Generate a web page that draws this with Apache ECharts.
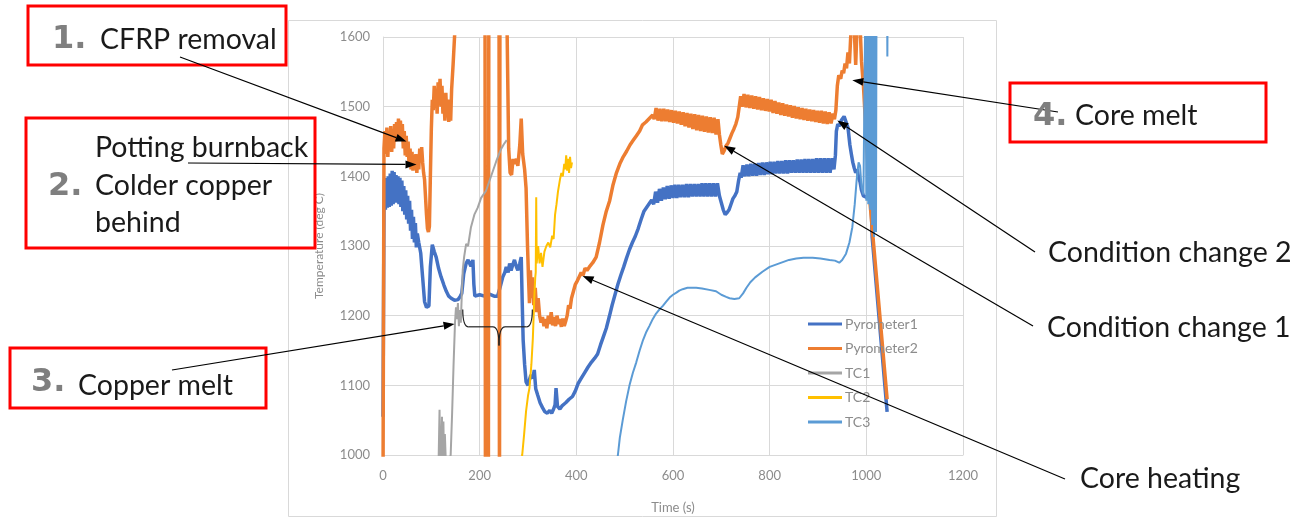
<!DOCTYPE html>
<html><head><meta charset="utf-8">
<script src="https://cdn.jsdelivr.net/npm/echarts@6/dist/echarts.min.js"></script>
<style>html,body{margin:0;padding:0;background:#fff;}#c{width:1299px;height:519px;}</style>
</head><body><div id="c"></div>
<script>
// ---- data (time s, temperature deg C) ----
const seriesNames = ['Pyrometer1','Pyrometer2','TC1','TC2','TC3'];
const xTicks = [0,200,400,600,800,1000,1200];
const yTicks = [1000,1100,1200,1300,1400,1500,1600];

const pyrometer1 = [
[0,1055],[0.5,1125],[2,1350],[3,1395],[5,1352],[7,1398],[9,1355],[11,1400],[13,1356],[15,1404],[17,1358],[19,1408],[21,1360],[23,1406],[25,1362],[27,1402],[29,1362],[31,1400],[33,1360],[35,1398],[37,1356],[39,1394],[41,1350],[43,1386],[45,1345],[47,1380],[49,1338],[51,1372],[53,1332],[55,1365],[57,1322],[59,1352],[61,1310],[63,1342],[65,1305],[67,1333],[69,1298],[71,1318],[74,1305],[78,1290],[82,1255],[86,1220],[90,1212],[95,1214],[98,1270],[102,1302],[106,1292],[110,1284],[115,1268],[120,1256],[126,1244],[131,1235],[136,1228],[141,1225],[148,1222],[155,1223],[160,1228],[163,1232],[167,1260],[172,1275],[176,1280],[179,1280],[182,1271],[186,1280],[188,1245],[190,1228],[200,1230],[210,1228],[220,1231],[230,1228],[237,1228],[242,1240],[248,1256],[252,1262],[255,1270],[259,1262],[262,1275],[265,1265],[268,1272],[272,1280],[276,1270],[279,1265],[283,1275],[286,1284],[288,1220],[290,1165],[293,1130],[296,1105],[300,1100],[303,1108],[306,1115],[310,1110],[313,1122],[316,1095],[320,1086],[325,1075],[330,1068],[335,1062],[340,1060],[345,1064],[349,1060],[353,1066],[356,1072],[358,1096],[361,1070],[366,1066],[371,1071],[378,1075],[385,1080],[392,1084],[398,1092],[404,1103],[410,1110],[417,1118],[424,1126],[431,1133],[438,1139],[444,1145],[450,1158],[456,1170],[462,1182],[468,1198],[474,1215],[480,1230],[486,1245],[492,1258],[498,1270],[504,1283],[510,1295],[516,1305],[522,1314],[528,1325],[534,1338],[540,1350],[546,1356],[552,1362],[556,1366],
[560,1360],[564,1378],[568,1362],[572,1382],[576,1365],[580,1384],[584,1367],[588,1386],[592,1368],[596,1387],[600,1369],[604,1388],[608,1369],[612,1388],[616,1370],[620,1388],[624,1370],[628,1389],[632,1370],[636,1389],[640,1371],[644,1389],[648,1371],[652,1389],[656,1371],[660,1390],[664,1371],[668,1390],[672,1371],[676,1390],[680,1371],[684,1390],[688,1371],[692,1390],[696,1372],
[700,1362],[704,1352],[708,1345],[712,1348],[716,1352],[720,1360],[724,1368],[728,1372],[732,1378],[736,1395],[739,1405],
[741,1398],[745,1416],[749,1400],[753,1417],[757,1400],[761,1418],[765,1401],[769,1418],[773,1401],[777,1419],[781,1402],[785,1420],[789,1402],[793,1420],[797,1403],[801,1421],[805,1403],[809,1421],[813,1404],[817,1422],[821,1404],[825,1422],[829,1404],[833,1423],[837,1404],[841,1423],[845,1405],[849,1423],[853,1405],[857,1424],[861,1405],[865,1424],[869,1405],[873,1425],[877,1405],[881,1425],[885,1405],[889,1425],[893,1405],[897,1426],[901,1405],[905,1426],[909,1405],[913,1426],[917,1405],[921,1426],[925,1405],[929,1426],[933,1410],
[936,1430],[938,1465],[941,1475],[944,1472],[948,1480],[951,1478],[954,1486],[958,1484],[962,1470],[966,1445],[969,1432],[972,1420],[975,1412],[978,1405],[981,1410],[984,1398],[987,1392],[990,1380],[994,1372],[1000,1370],[1006,1369],[1010,1360],[1012,1313],[1043,1062]
];

const pyrometer2 = [
[0,950],[2,1440],[4,1465],[6,1432],[8,1470],[10,1428],[12,1460],[14,1440],[16,1472],[18,1435],[20,1468],[22,1440],[24,1475],[26,1450],[28,1478],[30,1455],[32,1483],[34,1460],[36,1480],[38,1455],[40,1475],[42,1440],[44,1465],[46,1430],[48,1458],[50,1428],[52,1450],[54,1415],[56,1440],[58,1410],[60,1435],[62,1408],[64,1430],[66,1410],[68,1432],[70,1405],[72,1428],[74,1410],[76,1440],[78,1420],[80,1442],[82,1420],[84,1405],[86,1395],[88,1370],[90,1345],[92,1325],[94,1320],[96,1328],[98,1400],[100,1468],[102,1510],[104,1495],[106,1530],[108,1500],[110,1525],[112,1490],[114,1535],[116,1505],[118,1540],[120,1500],[122,1530],[124,1490],[126,1515],[128,1480],[130,1520],[132,1485],[134,1510],[136,1478],[138,1500],[140,1480],[142,1525],[145,1560],[148,1600],[151,1640],[160,1700],
[211,1700],[212,900],[218,900],[219,1700],[240,1700],[241,900],[242,1700],[255,1700],
[260,1440],[263,1405],[266,1402],[269,1425],[272,1418],[276,1425],[279,1415],[283,1445],[286,1483],[289,1432],[293,1410],[296,1383],[299,1300],[301,1256],[303,1218],[305,1265],[307,1225],[309,1255],[312,1215],[315,1240],[318,1205],[321,1225],[324,1200],[327,1190],[330,1198],[333,1185],[336,1195],[339,1182],[342,1200],[345,1188],[348,1205],[351,1186],[354,1198],[357,1185],[360,1200],[363,1188],[366,1195],[369,1184],[372,1196],[375,1185],[378,1192],[381,1200],[384,1215],[387,1210],[390,1225],[394,1235],[398,1245],[402,1250],[406,1256],[410,1262],[414,1258],[418,1268],[422,1265],[427,1270],[434,1276],[441,1284],[448,1305],[455,1330],[462,1350],[469,1365],[476,1388],[483,1405],[490,1418],[497,1428],[504,1436],[511,1445],[518,1452],[524,1458],[531,1465],[537,1474],[544,1478],[551,1483],[558,1488],
[561,1482],[565,1498],[569,1480],[573,1497],[577,1479],[581,1497],[585,1479],[589,1496],[593,1478],[597,1495],[601,1477],[605,1494],[609,1476],[613,1493],[617,1474],[621,1492],[625,1472],[629,1491],[633,1470],[637,1490],[641,1468],[645,1489],[649,1466],[653,1488],[657,1465],[661,1487],[665,1464],[669,1486],[673,1463],[677,1485],[681,1462],[685,1484],[689,1460],[693,1482],
[696,1460],[699,1445],[702,1432],[706,1437],[710,1444],[714,1448],[718,1455],[722,1462],[726,1468],[730,1475],[734,1485],[737,1500],[740,1515],
[743,1500],[747,1518],[751,1499],[755,1517],[759,1498],[763,1516],[767,1497],[771,1515],[775,1496],[779,1514],[783,1495],[787,1512],[791,1494],[795,1511],[799,1493],[803,1510],[807,1491],[811,1508],[815,1490],[819,1506],[823,1488],[827,1505],[831,1487],[835,1503],[839,1486],[843,1502],[847,1484],[851,1501],[855,1483],[859,1499],[863,1482],[867,1498],[871,1481],[875,1497],[879,1480],[883,1496],[887,1479],[891,1495],[895,1478],[899,1494],[903,1477],[907,1494],[911,1476],[915,1493],[919,1475],[923,1492],[927,1476],[931,1490],[934,1482],
[937,1495],[940,1530],[943,1545],[947,1540],[950,1552],[953,1548],[956,1562],[959,1555],[962,1578],[965,1562],[968,1605],[971,1640],[975,1612],[978,1560],[981,1620],[985,1650],[988,1600],[990,1565],[994,1530],[998,1480],[1003,1420],[1006,1374],[1012,1327],[1043,1080]
];

const tc1 = [
[110,960],[115,990],[117,1065],[118,995],[120,1000],[122,1055],[123,995],[125,1048],[126,998],[128,1030],[130,990],[135,985],[140,1000],[143,1060],[146,1130],[149,1190],[151,1212],[153,1195],[155,1218],[157,1185],[159,1208],[161,1190],[163,1230],[165,1266],[168,1285],[172,1303],[176,1300],[182,1327],[189,1345],[196,1355],[203,1369],[213,1379],[220,1393],[227,1407],[234,1421],[240,1432],[245,1440],[250,1446],[253,1448],[256,1452]
];

const tc2 = [
[284,980],[288,1000],[292,1030],[296,1063],[300,1085],[303,1096],[307,1130],[310,1167],[313,1225],[315,1255],[316,1262],[317,1370],[318,1275],[321,1300],[324,1275],[327,1290],[330,1270],[334,1292],[338,1300],[342,1305],[346,1298],[350,1315],[353,1310],[356,1345],[359,1360],[362,1378],[366,1395],[369,1405],[372,1400],[375,1418],[377,1410],[379,1430],[381,1408],[383,1425],[385,1405],[387,1428],[389,1412],[391,1420]
];

const tc3 = [
[484,990],[486,1000],[490,1025],[496,1050],[503,1077],[510,1100],[517,1118],[524,1133],[531,1150],[538,1165],[545,1177],[551,1185],[558,1195],[565,1203],[572,1209],[579,1214],[586,1220],[593,1226],[600,1230],[607,1233],[613,1236],[620,1238],[630,1240],[648,1240],[660,1239],[675,1237],[689,1235],[700,1230],[710,1227],[717,1225],[727,1224],[737,1225],[745,1232],[752,1240],[760,1248],[770,1255],[785,1263],[800,1270],[820,1275],[840,1280],[855,1282],[870,1283],[889,1283],[905,1282],[924,1280],[935,1279],[944,1276],[950,1280],[958,1289],[965,1305],[971,1327],[976,1360],[980,1395],[984,1420],[987,1415],[990,1385],[994,1374],[996,1372],
[998,1650],[1000,1365],[1002,1650],[1004,1360],[1006,1650],[1008,1352],[1010,1650],[1012,1330],[1014,1650],[1016,1313],[1018,1650],[1020,1320],[1021,1650],[1043,1650],[1043.5,1572],[1044,1650]
];

const seriesData = [pyrometer1, pyrometer2, tc1, tc2, tc3];
const seriesColors = ['#4472C4','#ED7D31','#A5A5A5','#FFC000','#5B9BD5'];
const seriesWidths = [3.5, 3.5, 2, 2, 2];

// annotations: tip in data coords, tail in pixels
const arrows = [
  {tip:[48.6,1450], tail:[180,57]},
  {tip:[69.3,1417], tail:[188,163]},
  {tip:[148,1188], tail:[172,370]},
  {tip:[413,1257], tail:[1065,479]},
  {tip:[706,1444], tail:[1033,326]},
  {tip:[940,1480], tail:[1035,252]},
  {tip:[971,1538], tail:[1058,112]}
];

const chart = echarts.init(document.getElementById('c'), null, {renderer:'canvas'});
const gridColor = '#d9d9d9';
const tickColor = '#8c8c8c';

chart.setOption({
  animation: false,
  backgroundColor: '#ffffff',
  grid: {left: 383, right: 336, top: 37, bottom: 58, containLabel: false},
  legend: {
    data: seriesNames.map(n => ({name: n, icon: 'rect'})),
    orient: 'vertical', left: 803, top: 312,
    itemWidth: 34, itemHeight: 3, itemGap: 10.5,
    textStyle: {color: tickColor, fontSize: 14, fontFamily: 'Lato', lineHeight: 14, padding: [0,0,0,-2]}
  },
  xAxis: {
    type: 'value', min: 0, max: 1200, interval: 200,
    name: 'Time (s)', nameLocation: 'middle', nameGap: 46,
    nameTextStyle: {color: tickColor, fontSize: 13, fontFamily: 'Lato'},
    axisLine: {show: true, lineStyle: {color: gridColor}},
    axisTick: {show: false},
    axisLabel: {color: tickColor, fontSize: 13, fontFamily: 'Lato', margin: 14, formatter: v => String(v)},
    splitLine: {show: true, lineStyle: {color: gridColor, width: 1}}
  },
  yAxis: {
    type: 'value', min: 1000, max: 1600, interval: 100,
    name: 'Temperature (deg C)', nameLocation: 'middle', nameGap: 58,
    nameTextStyle: {color: tickColor, fontSize: 12, fontFamily: 'Lato'},
    axisLine: {show: true, lineStyle: {color: gridColor}},
    axisTick: {show: false},
    axisLabel: {color: tickColor, fontSize: 13, fontFamily: 'Lato', margin: 13, formatter: v => String(v)},
    splitLine: {show: true, lineStyle: {color: gridColor, width: 1}}
  },
  series: seriesNames.map((n, i) => ({
    name: n, type: 'line', data: seriesData[i],
    symbol: 'none', showSymbol: false, clip: true,
    color: seriesColors[i],
    itemStyle: {color: seriesColors[i]},
    lineStyle: {color: seriesColors[i], width: seriesWidths[i]},
    z: 2 + i
  }))
});

// ---- annotation graphics ----
const g = [];
g.push({type:'rect', shape:{x:288.5, y:20.5, width:708, height:496}, style:{fill:'none', stroke:'#d9d9d9', lineWidth:1}, z:0, silent:true});

function arrow(tipPx, tail) {
  const dx = tipPx[0]-tail[0], dy = tipPx[1]-tail[1];
  const len = Math.sqrt(dx*dx+dy*dy), ux = dx/len, uy = dy/len;
  const L = 11, W = 4;
  const bx = tipPx[0]-ux*L, by = tipPx[1]-uy*L;
  g.push({type:'line', shape:{x1:tail[0], y1:tail[1], x2:bx, y2:by}, style:{stroke:'#000', lineWidth:1.2}, z:100, silent:true});
  g.push({type:'polygon', shape:{points:[tipPx,[bx-uy*W, by+ux*W],[bx+uy*W, by-ux*W]]}, style:{fill:'#000'}, z:100, silent:true});
}
arrows.forEach(a => arrow(chart.convertToPixel({gridIndex:0}, a.tip), a.tail));

// brace under the copper-melt period
const bl = chart.convertToPixel({gridIndex:0}, [165, 1209]);
const br = chart.convertToPixel({gridIndex:0}, [309, 1184]);
const bc = chart.convertToPixel({gridIndex:0}, [240, 1157]);
const yTop = bl[1], yMid = br[1], yBot = bc[1];
const xl = bl[0], xr = br[0], xc = bc[0];
const braceStyle = {fill:'none', stroke:'#222', lineWidth:1.2};
function curve(x1,y1,cx,cy,x2,y2){ g.push({type:'bezierCurve', shape:{x1:x1,y1:y1,cpx1:cx,cpy1:cy,x2:x2,y2:y2}, style:braceStyle, z:100, silent:true}); }
function seg(x1,y1,x2,y2){ g.push({type:'line', shape:{x1:x1,y1:y1,x2:x2,y2:y2}, style:braceStyle, z:100, silent:true}); }
curve(xl, yTop, xl, yMid, xl+6, yMid);
seg(xl+6, yMid, xc-6, yMid);
curve(xc-6, yMid, xc, yMid, xc, yBot);
curve(xc, yBot, xc, yMid, xc+6, yMid);
seg(xc+6, yMid, xr-6, yMid);
curve(xr-6, yMid, xr, yMid, xr, yTop);

// red boxes
const boxes = [[28,6,258,59],[26,118,289,130],[10,348,256,60],[1010,83,256,59]];
boxes.forEach(b => g.push({type:'rect', shape:{x:b[0], y:b[1], width:b[2], height:b[3]}, style:{fill:'none', stroke:'#ff0000', lineWidth:3}, z:90, silent:true}));

function txt(s, x, base, size, opts) {
  opts = opts || {};
  g.push({type:'text', x:x, y:base - size*0.33, z:110, silent:true, style:{
    text:s, fill: opts.color || '#1a1a1a', fontSize:size, fontFamily: opts.family || 'Lato',
    fontWeight: opts.weight || 'normal', textAlign:'left', textVerticalAlign:'middle'}});
}
const numOpt = {color:'#7f7f7f', family:'DejaVu Sans', weight:'bold'};
const fs = 28.5;
txt('1.', 52, 50, 32, numOpt);
txt('CFRP removal', 100, 49, fs);
txt('Potting burnback', 95, 157, fs);
txt('2.', 48, 197, 32, numOpt);
txt('Colder copper', 95, 195, fs);
txt('behind', 95, 232, fs);
txt('3.', 31, 393, 32, numOpt);
txt('Copper melt', 78, 395, fs);
txt('4.', 1033, 127, 32, numOpt);
txt('Core melt', 1075, 125, fs);
txt('Condition change 2', 1048, 262, fs);
txt('Condition change 1', 1047, 337, fs);
txt('Core heating', 1080, 488, fs);

chart.setOption({graphic: g});
</script>
</body></html>
